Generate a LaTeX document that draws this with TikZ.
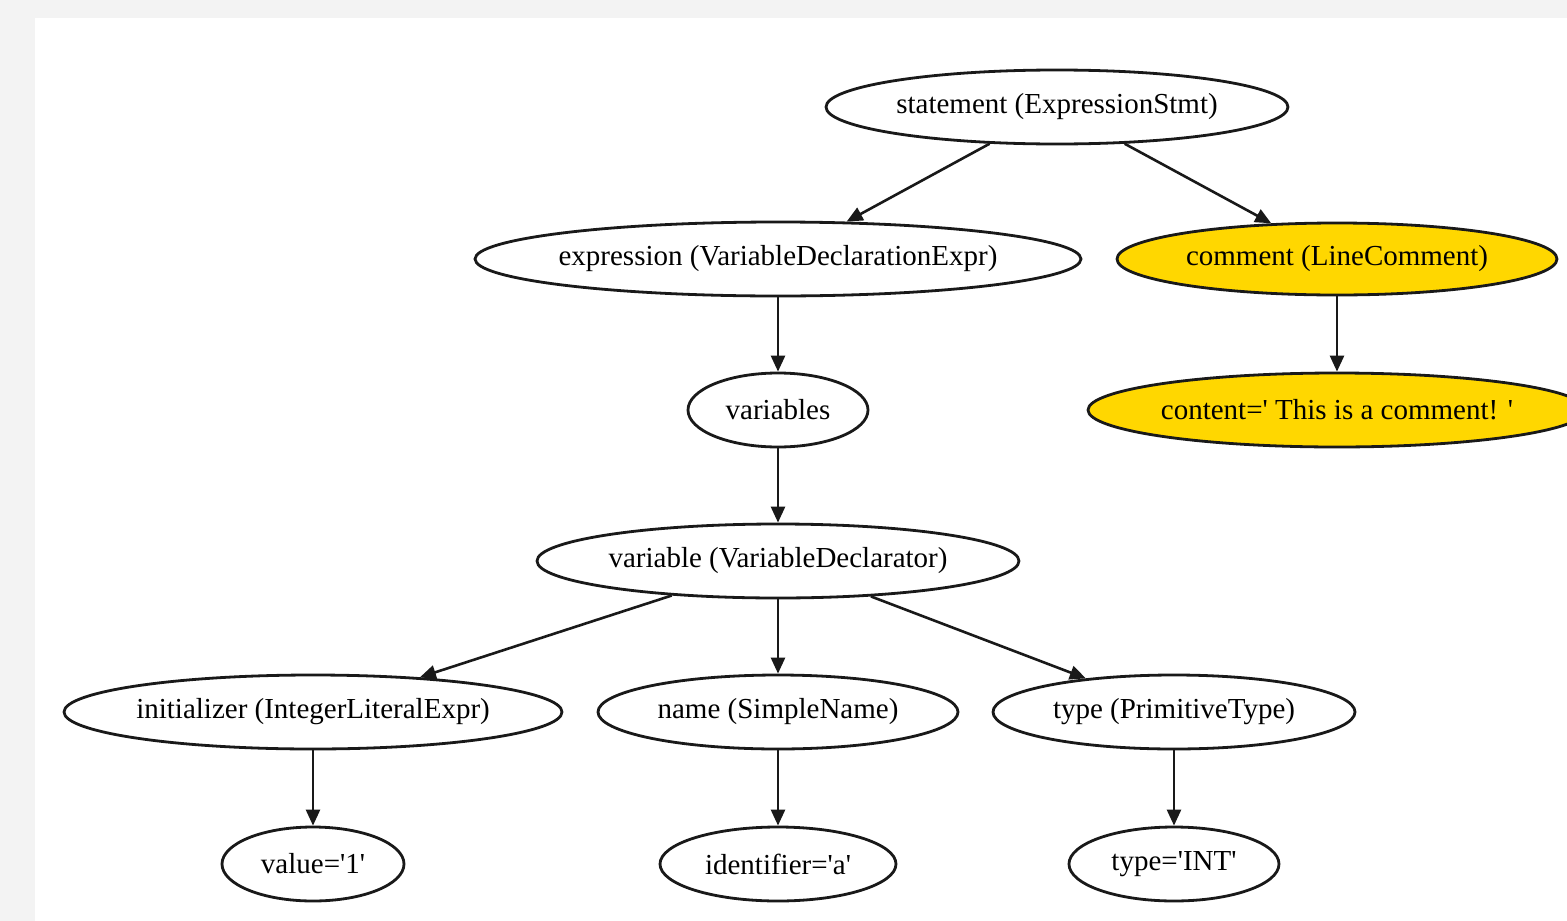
\documentclass[tikz,border=0pt]{standalone}
\usepackage{fontspec}
\setmainfont{Liberation Serif}
\usetikzlibrary{shapes.geometric,arrows.meta}
\definecolor{pagegrey}{HTML}{F3F3F3}
\definecolor{gold}{HTML}{FFD700}
\newcommand{\q}{\textquotesingle}
\tikzset{
  ast/.style={ellipse, draw=black!90, line width=2.8pt, inner sep=0pt,
    label={[font=\fontsize{29}{32}\selectfont, inner sep=0pt]center:#1}},
  astw/.style={ast={#1}, fill=white},
  asty/.style={ast={#1}, fill=gold},
  edge/.style={draw=black!90, line width=2.6pt, -{Triangle[length=16pt,width=14pt]}}
}
\begin{document}
\begin{tikzpicture}[x=1pt,y=-1pt]
\useasboundingbox (0,0) rectangle (1567,921);
\fill[pagegrey] (0,0) rectangle (1567,921);
\fill[white] (35,18) rectangle (1567,921);
\node[astw={statement (ExpressionStmt)}, minimum width=462pt, minimum height=74pt] (stmt) at (1057,107) {};
\node[astw={expression (VariableDeclarationExpr)}, minimum width=606pt, minimum height=74pt] (expr) at (778,259) {};
\node[asty={comment (LineComment)}, minimum width=440pt, minimum height=72pt] (comm) at (1337,259) {};
\node[astw={variables}, minimum width=180pt, minimum height=74pt] (vars) at (778,410) {};
\node[asty={content=\q{} This is a comment! \q}, minimum width=498pt, minimum height=74pt] (cont) at (1337,410) {};
\node[astw={variable (VariableDeclarator)}, minimum width=482pt, minimum height=74pt] (var) at (778,561) {};
\node[astw={initializer (IntegerLiteralExpr)}, minimum width=498pt, minimum height=74pt] (init) at (313,712) {};
\node[astw={name (SimpleName)}, minimum width=360pt, minimum height=74pt] (name) at (778,712) {};
\node[astw={type (PrimitiveType)}, minimum width=362pt, minimum height=74pt] (type) at (1174,712) {};
\node[astw={value=\q1\q}, minimum width=182pt, minimum height=74pt] (val) at (313,864) {};
\node[astw={identifier=\q a\q}, minimum width=236pt, minimum height=74pt] (ident) at (778,864) {};
\node[astw={type=\q INT\q}, minimum width=210pt, minimum height=74pt] (tint) at (1174,864) {};
\draw[edge] (stmt) -- (expr);
\draw[edge] (stmt) -- (comm);
\draw[edge] (expr) -- (vars);
\draw[edge] (comm) -- (cont);
\draw[edge] (vars) -- (var);
\draw[edge] (var) -- (init);
\draw[edge] (var) -- (name);
\draw[edge] (var) -- (type);
\draw[edge] (init) -- (val);
\draw[edge] (name) -- (ident);
\draw[edge] (type) -- (tint);
\end{tikzpicture}
\end{document}
